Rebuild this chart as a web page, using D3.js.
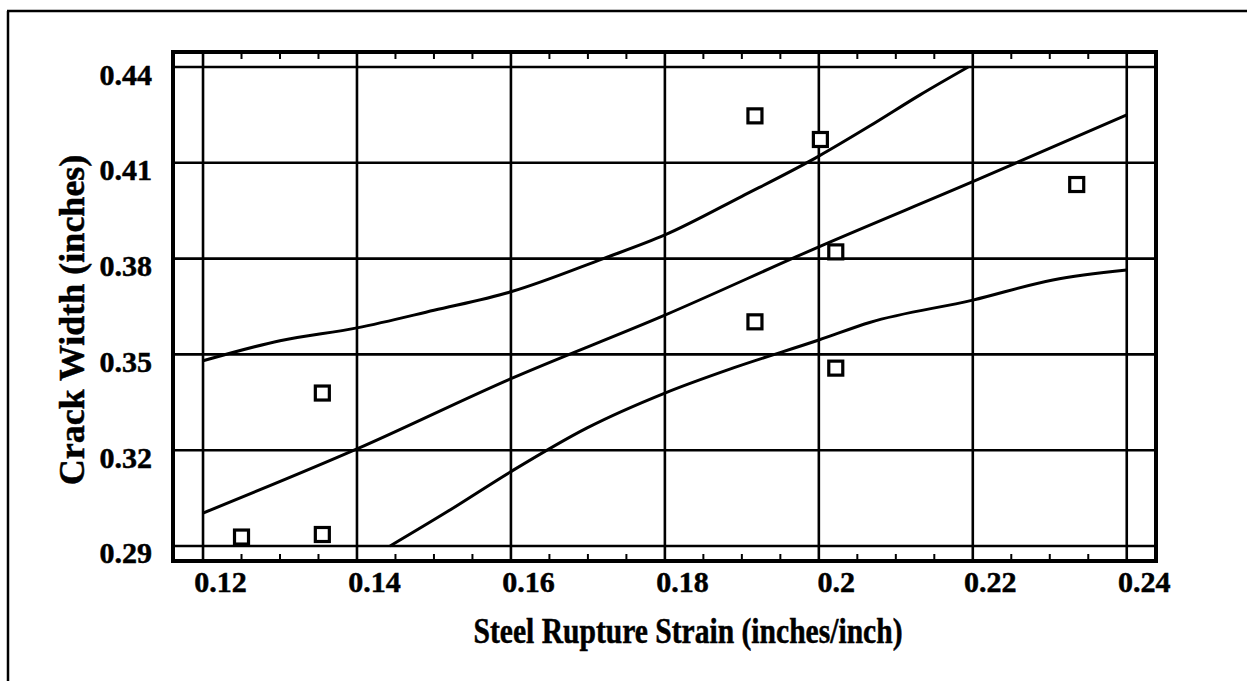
<!DOCTYPE html>
<html>
<head>
<meta charset="utf-8">
<script src="https://cdn.jsdelivr.net/npm/d3@7/dist/d3.min.js"></script>
<style>
  html, body { margin: 0; padding: 0; background: #fff; }
  svg { display: block; }
  text { font-family: "Liberation Serif", "Times New Roman", serif; font-weight: bold; fill: #000;
         stroke: #000; stroke-width: 0.5px; }
</style>
</head>
<body>
<svg id="chart" width="1247" height="681"></svg>
<script>
// Tick values on both axes
const xTickValues = [0.12, 0.14, 0.16, 0.18, 0.20, 0.22, 0.24];
const xTickLabels = ["0.12", "0.14", "0.16", "0.18", "0.2", "0.22", "0.24"];
const yTickValues = [0.29, 0.32, 0.35, 0.38, 0.41, 0.44];
const yTickLabels = ["0.29", "0.32", "0.35", "0.38", "0.41", "0.44"];
const xMinorTicks = [0.125, 0.13, 0.135, 0.145, 0.15, 0.155, 0.165, 0.17, 0.175,
                     0.185, 0.19, 0.195, 0.205, 0.21, 0.215, 0.225, 0.23, 0.235];

// Observed specimens: steel rupture strain vs crack width
const strain = [0.125, 0.1355, 0.1355, 0.1917, 0.2002, 0.2022, 0.1917, 0.2022, 0.2335];
const crackWidth = [0.2928, 0.2936, 0.3379, 0.4247, 0.4173, 0.3821, 0.3602, 0.3457, 0.4032];

// Fitted line
const fitX = [0.12, 0.14, 0.16, 0.18, 0.20, 0.22, 0.24];
const fitY = [0.3003, 0.3204, 0.3424, 0.3623, 0.3837, 0.4041, 0.4250];

// Upper limit curve (leaves the plot at the top gridline)
const upperX = [0.12, 0.13, 0.14, 0.15, 0.16, 0.172, 0.18, 0.19, 0.20, 0.2066, 0.2131, 0.2194];
const upperY = [0.3480, 0.3543, 0.3583, 0.3638, 0.3696, 0.3800, 0.3874, 0.3995, 0.4121, 0.4215, 0.4312, 0.4400];

// Lower limit curve (enters the plot at the bottom gridline)
const lowerX = [0.1443, 0.1517, 0.16, 0.1699, 0.18, 0.1888, 0.20, 0.2066, 0.22, 0.2304, 0.24];
const lowerY = [0.2900, 0.3007, 0.3133, 0.3270, 0.3379, 0.3457, 0.3545, 0.3600, 0.3670, 0.3733, 0.3764];

const svg = d3.select("#chart");

// Outer page frame (left and top rules)
svg.append("line").attr("x1", 8).attr("y1", 11).attr("x2", 8).attr("y2", 681)
  .attr("stroke", "#000").attr("stroke-width", 2.5);
svg.append("line").attr("x1", 7).attr("y1", 11).attr("x2", 1247).attr("y2", 11)
  .attr("stroke", "#000").attr("stroke-width", 2.5);

const plot = { left: 173, top: 52, right: 1156, bottom: 561 };

const x = d3.scaleLinear().domain([0.1161, 0.2438]).range([plot.left, plot.right]);
const y = d3.scaleLinear().domain([0.2853, 0.4447]).range([plot.bottom, plot.top]);

const g = svg.append("g");

// Grid lines
g.selectAll("line.vgrid").data(xTickValues).join("line")
  .attr("class", "vgrid")
  .attr("x1", d => x(d)).attr("x2", d => x(d))
  .attr("y1", plot.top).attr("y2", plot.bottom)
  .attr("stroke", "#000").attr("stroke-width", 2.6);
g.selectAll("line.hgrid").data(yTickValues).join("line")
  .attr("class", "hgrid")
  .attr("x1", plot.left).attr("x2", plot.right)
  .attr("y1", d => y(d)).attr("y2", d => y(d))
  .attr("stroke", "#000").attr("stroke-width", 2.6);

// Minor ticks along top and bottom edges
g.selectAll("line.mtop").data(xMinorTicks).join("line")
  .attr("class", "mtop")
  .attr("x1", d => x(d)).attr("x2", d => x(d))
  .attr("y1", plot.top).attr("y2", plot.top + 7)
  .attr("stroke", "#000").attr("stroke-width", 2);
g.selectAll("line.mbot").data(xMinorTicks).join("line")
  .attr("class", "mbot")
  .attr("x1", d => x(d)).attr("x2", d => x(d))
  .attr("y1", plot.bottom).attr("y2", plot.bottom - 7)
  .attr("stroke", "#000").attr("stroke-width", 2);

// Plot border
g.append("rect")
  .attr("x", plot.left).attr("y", plot.top)
  .attr("width", plot.right - plot.left).attr("height", plot.bottom - plot.top)
  .attr("fill", "none").attr("stroke", "#000").attr("stroke-width", 4);

// Curves
const line = d3.line().x(d => x(d[0])).y(d => y(d[1])).curve(d3.curveMonotoneX);
const curves = [
  d3.zip(fitX, fitY),
  d3.zip(upperX, upperY),
  d3.zip(lowerX, lowerY)
];
g.selectAll("path.curve").data(curves).join("path")
  .attr("class", "curve")
  .attr("d", line)
  .attr("fill", "none").attr("stroke", "#000").attr("stroke-width", 3)
  .attr("stroke-linejoin", "round");

// Data markers: open squares
const pts = d3.zip(strain, crackWidth);
const s = 14;
g.selectAll("rect.pt").data(pts).join("rect")
  .attr("class", "pt")
  .attr("x", d => x(d[0]) - s / 2).attr("y", d => y(d[1]) - s / 2)
  .attr("width", s).attr("height", s)
  .attr("fill", "#fff").attr("stroke", "#000").attr("stroke-width", 3.2);

// Axis tick labels
const xAxis = d3.axisBottom(x).tickValues(xTickValues)
  .tickFormat((d, i) => xTickLabels[i]).tickSize(0);
const xAxisG = svg.append("g").attr("transform", `translate(0,${plot.bottom})`).call(xAxis);
xAxisG.select(".domain").remove();
xAxisG.selectAll("text")
  .attr("y", 31).attr("dy", 0).attr("dx", 17)
  .style("font-size", "30px");

const yAxis = d3.axisLeft(y).tickValues(yTickValues)
  .tickFormat((d, i) => yTickLabels[i]).tickSize(0);
const yAxisG = svg.append("g").attr("transform", `translate(${plot.left},0)`).call(yAxis);
yAxisG.select(".domain").remove();
yAxisG.selectAll("text")
  .attr("x", -21).attr("dy", 17)
  .style("font-size", "30px");

// Axis titles
svg.append("text")
  .attr("x", 688).attr("y", 643)
  .attr("text-anchor", "middle")
  .attr("textLength", 429).attr("lengthAdjust", "spacingAndGlyphs")
  .style("font-size", "35px")
  .text("Steel Rupture Strain (inches/inch)");

svg.append("text")
  .attr("transform", "translate(84,320) rotate(-90)")
  .attr("text-anchor", "middle")
  .style("font-size", "36px")
  .text("Crack Width (inches)");
</script>
</body>
</html>
